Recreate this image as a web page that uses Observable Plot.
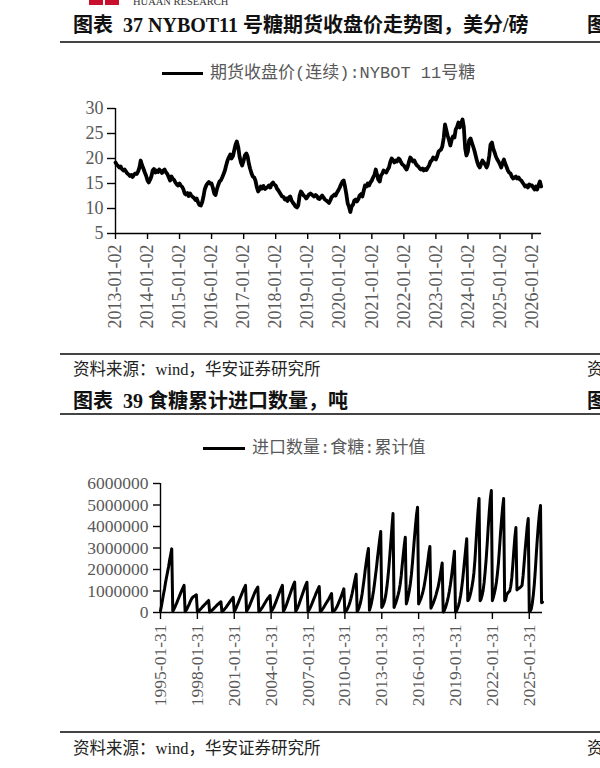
<!DOCTYPE html>
<html>
<head>
<meta charset="utf-8">
<script src="https://cdn.jsdelivr.net/npm/d3@7"></script>
<script src="https://cdn.jsdelivr.net/npm/@observablehq/plot@0.6"></script>
<style>
  html, body { margin: 0; padding: 0; background: #fff; }
  #page { position: relative; width: 600px; height: 768px; overflow: hidden; background: #fff; }
  .abs { position: absolute; white-space: nowrap; line-height: 1; }
  .title { font-family: "Liberation Serif", "Noto Sans CJK SC", serif; font-weight: bold; font-size: 20px; color: #111; }
  .src { font-family: "Liberation Serif", "Noto Sans CJK SC", serif; font-size: 16.5px; color: #222; }
  .rule { position: absolute; left: 60px; width: 540px; height: 1.5px; background: #444; }
  .legline { position: absolute; height: 3px; background: #000; }
  .legtext { font-family: "Liberation Mono", "Noto Sans CJK SC", monospace; font-size: 17px; color: #595959; }
  .chart { position: absolute; left: 0; }
</style>
</head>
<body>
<div id="page">
  <div class="abs" style="left:89px;top:0;width:14px;height:5px;background:#c8102e"></div>
  <div class="abs" style="left:105px;top:0;width:14px;height:5px;background:#c8102e"></div>
  <div class="abs" style="left:133px;top:-3px;font-family:'Liberation Serif',serif;font-size:10.5px;color:#333">HUAAN RESEARCH</div>

  <div class="abs title" style="left:73px;top:15px">图表&nbsp;&nbsp;37 NYBOT11 号糖期货收盘价走势图，美分/磅</div>
  <div class="abs title" style="left:587px;top:15px">图</div>
  <div class="rule" style="top:41px"></div>

  <div class="legline" style="left:162px;top:72px;width:41px"></div>
  <div class="abs legtext" style="left:210px;top:65px">期货收盘价(连续):NYBOT 11号糖</div>
  <div id="chart1" class="chart" style="top:90px"></div>

  <div class="rule" style="top:353px"></div>
  <div class="abs src" style="left:73px;top:362px">资料来源：wind，华安证券研究所</div>
  <div class="abs src" style="left:587px;top:362px">资</div>
  <div class="abs title" style="left:73px;top:391px">图表&nbsp;&nbsp;39 食糖累计进口数量，吨</div>
  <div class="abs title" style="left:587px;top:391px">图</div>
  <div class="rule" style="top:413px"></div>

  <div class="legline" style="left:203px;top:447px;width:42px"></div>
  <div class="abs legtext" style="left:252px;top:440px">进口数量:食糖:累计值</div>
  <div id="chart2" class="chart" style="top:465px"></div>

  <div class="rule" style="top:731px"></div>
  <div class="abs src" style="left:73px;top:741px">资料来源：wind，华安证券研究所</div>
  <div class="abs src" style="left:587px;top:741px">资</div>
</div>
<script>
// ---------- Chart 37: NYBOT 11 sugar futures close (US cents/lb), half-monthly readings ----------
const price2013 = [19.2, 18.8, 18.5, 18.2, 18.4, 17.9, 17.6, 17.8, 17.4, 17.0, 16.8, 16.5, 16.7, 16.3, 16.8, 17.0, 16.9, 17.4, 18.2, 19.6, 18.6, 18.0, 17.2, 16.6];
const price2014 = [15.6, 15.2, 15.8, 16.5, 17.6, 17.9, 17.2, 17.6, 17.3, 17.8, 17.5, 17.1, 17.6, 17.8, 17.2, 16.9, 16.2, 15.6, 16.4, 16.0, 15.7, 15.2, 14.8, 14.6];
const price2015 = [15.0, 14.6, 14.3, 13.8, 13.0, 12.8, 13.1, 12.5, 13.0, 12.6, 12.3, 12.1, 11.7, 12.0, 11.2, 10.7, 10.6, 11.2, 12.4, 13.8, 14.6, 15.0, 15.3, 15.0];
const price2016 = [15.0, 14.2, 13.0, 12.7, 13.8, 14.6, 15.4, 15.6, 16.2, 16.8, 17.6, 18.6, 19.6, 20.2, 20.8, 20.0, 20.5, 21.6, 22.8, 23.4, 22.2, 20.4, 19.2, 18.6];
const price2017 = [19.6, 20.6, 21.0, 20.4, 19.0, 18.0, 17.0, 16.4, 16.2, 15.6, 14.2, 13.4, 13.8, 14.4, 14.0, 14.5, 13.9, 14.1, 14.3, 14.6, 14.2, 14.9, 15.2, 14.8];
const price2018 = [14.6, 14.0, 13.6, 13.2, 12.8, 12.4, 12.3, 11.8, 12.0, 11.5, 12.2, 12.4, 11.6, 11.2, 10.8, 10.4, 10.2, 10.6, 12.6, 13.4, 13.0, 12.6, 12.4, 12.0];
const price2019 = [12.4, 12.8, 13.0, 12.8, 12.6, 12.4, 12.7, 12.5, 12.0, 11.9, 12.3, 12.6, 12.2, 11.8, 11.6, 11.4, 11.1, 11.6, 12.3, 12.5, 12.8, 12.6, 13.2, 13.6];
const price2020 = [14.2, 14.8, 15.4, 15.6, 14.4, 13.0, 11.0, 10.4, 9.3, 10.4, 10.8, 11.6, 11.8, 11.4, 11.9, 12.6, 12.9, 12.4, 13.6, 14.6, 14.4, 15.0, 14.6, 15.2];
const price2021 = [15.6, 16.2, 16.8, 17.8, 16.8, 15.8, 15.4, 16.6, 17.0, 17.6, 17.4, 17.2, 17.8, 18.2, 19.4, 20.0, 19.6, 19.2, 19.6, 19.4, 20.0, 19.8, 19.2, 18.8];
const price2022 = [18.6, 18.2, 17.8, 18.4, 19.4, 20.2, 19.8, 19.4, 19.6, 19.0, 18.6, 18.4, 18.0, 17.8, 18.0, 17.6, 17.9, 17.7, 18.2, 18.6, 19.4, 19.6, 20.2, 20.0];
const price2023 = [19.8, 20.4, 21.4, 21.6, 21.8, 22.4, 24.2, 26.8, 25.6, 24.6, 23.6, 22.6, 23.8, 24.4, 24.2, 25.8, 26.4, 27.2, 26.2, 27.0, 27.8, 26.4, 22.0, 20.6];
const price2024 = [21.4, 23.6, 24.0, 23.2, 22.4, 21.6, 20.4, 19.4, 18.6, 18.2, 19.0, 19.6, 19.2, 18.8, 18.2, 18.8, 20.6, 22.8, 23.2, 22.0, 21.2, 20.4, 19.8, 19.4];
const price2025 = [18.8, 18.2, 19.2, 19.8, 19.0, 18.4, 17.6, 17.2, 17.0, 16.4, 16.0, 16.2, 16.4, 16.0, 16.2, 15.8, 15.6, 15.2, 14.8, 14.4, 14.6, 14.2, 14.8, 14.6];
const price2026 = [14.6, 14.2, 13.8, 14.4, 13.8, 14.6, 15.4, 14.4];
const priceYTicks = [5, 10, 15, 20, 25, 30];
const priceXTicks = ["2013-01-02","2014-01-02","2015-01-02","2016-01-02","2017-01-02","2018-01-02","2019-01-02",
                     "2020-01-02","2021-01-02","2022-01-02","2023-01-02","2024-01-02","2025-01-02","2026-01-02"];
const priceDomain = ["2013-01-02", "2026-04-20"];

// ---------- Chart 39: China sugar imports, cumulative YTD (万吨 = 10,000 t), monthly ----------
const imp1995 = [8, 30, 58, 85, 110, 140, 165, 190, 215, 245, 270, 296];
const imp1996 = [6, 14, 24, 35, 46, 58, 70, 82, 94, 105, 116, 126];
const imp1997 = [4, 10, 18, 28, 38, 50, 60, 68, 73, 76, 79, 82];
const imp1998 = [3, 6, 10, 15, 20, 26, 31, 36, 41, 46, 51, 56];
const imp1999 = [2, 5, 9, 13, 18, 23, 28, 33, 38, 42, 46, 50];
const imp2000 = [3, 7, 12, 18, 24, 31, 38, 45, 52, 58, 64, 70];
const imp2001 = [5, 12, 22, 34, 46, 58, 70, 82, 94, 106, 116, 126];
const imp2002 = [6, 13, 22, 32, 44, 56, 68, 80, 92, 102, 110, 118];
const imp2003 = [4, 8, 14, 20, 28, 36, 44, 52, 60, 67, 73, 79];
const imp2004 = [5, 11, 19, 29, 41, 53, 66, 79, 92, 104, 115, 126];
const imp2005 = [6, 14, 24, 36, 50, 64, 78, 92, 106, 119, 131, 141];
const imp2006 = [6, 13, 23, 35, 49, 63, 77, 91, 105, 118, 130, 141];
const imp2007 = [5, 11, 20, 30, 42, 54, 66, 78, 90, 101, 111, 121];
const imp2008 = [4, 8, 14, 21, 29, 37, 45, 53, 61, 70, 79, 88];
const imp2009 = [3, 6, 10, 16, 24, 34, 46, 58, 70, 83, 96, 110];
const imp2010 = [2, 6, 12, 22, 34, 48, 66, 86, 108, 132, 156, 178];
const imp2011 = [5, 12, 24, 40, 62, 90, 125, 162, 202, 238, 270, 298];
const imp2012 = [10, 25, 45, 70, 100, 135, 175, 215, 260, 300, 340, 377];
const imp2013 = [23, 30, 42, 58, 82, 116, 160, 212, 272, 334, 398, 460];
const imp2014 = [23, 35, 48, 64, 82, 102, 130, 170, 220, 268, 312, 350];
const imp2015 = [40, 55, 78, 102, 135, 176, 230, 290, 350, 405, 455, 490];
const imp2016 = [40, 50, 62, 76, 92, 112, 140, 170, 202, 240, 278, 307];
const imp2017 = [20, 30, 40, 52, 66, 82, 100, 118, 142, 170, 200, 230];
const imp2018 = [2, 8, 20, 35, 52, 72, 98, 128, 162, 202, 242, 285];
const imp2019 = [2, 8, 18, 32, 52, 78, 112, 152, 198, 248, 296, 343];
const imp2020 = [55, 60, 75, 95, 118, 145, 185, 245, 322, 402, 472, 530];
const imp2021 = [55, 62, 80, 102, 140, 190, 250, 322, 400, 470, 528, 567];
const imp2022 = [55, 70, 90, 112, 142, 182, 232, 300, 370, 432, 486, 530];
const imp2023 = [55, 58, 82, 90, 95, 100, 122, 162, 222, 290, 350, 395];
const imp2024 = [105, 110, 112, 116, 120, 126, 170, 230, 290, 345, 398, 437];
const imp2025 = [3, 7, 16, 42, 82, 132, 200, 280, 350, 412, 462, 498];
const imp2026 = [45, 48];
const impYTicks = [0, 1000000, 2000000, 3000000, 4000000, 5000000, 6000000];
const impXTicks = ["1995-01-31","1998-01-31","2001-01-31","2004-01-31","2007-01-31","2010-01-31",
                   "2013-01-31","2016-01-31","2019-01-31","2022-01-31","2025-01-31"];
const impDomain = ["1995-01-31", "2026-02-28"];

// ---------- build tables ----------
const priceSeries = [price2013, price2014, price2015, price2016, price2017, price2018, price2019,
                     price2020, price2021, price2022, price2023, price2024, price2025, price2026];
const priceRows = [];
priceSeries.forEach((arr, k) => {
  const year = 2013 + k;
  arr.forEach((v, i) => {
    priceRows.push({date: new Date(Date.UTC(year, Math.floor(i / 2), i % 2 ? 16 : 2)), price: v});
  });
});

const impSeries = [imp1995, imp1996, imp1997, imp1998, imp1999, imp2000, imp2001, imp2002, imp2003, imp2004,
                   imp2005, imp2006, imp2007, imp2008, imp2009, imp2010, imp2011, imp2012, imp2013, imp2014,
                   imp2015, imp2016, imp2017, imp2018, imp2019, imp2020, imp2021, imp2022, imp2023, imp2024,
                   imp2025, imp2026];
const impRows = [];
impSeries.forEach((arr, k) => {
  const year = 1995 + k;
  arr.forEach((v, m) => {
    impRows.push({date: new Date(Date.UTC(year, m + 1, 0)), tons: v * 10000});
  });
});

const fmtDate = d3.utcFormat("%Y-%m-%d");
const axisText = "#595959";

const chart1 = Plot.plot({
  width: 600, height: 250,
  marginLeft: 115, marginRight: 59, marginTop: 18, marginBottom: 107,
  style: {fontFamily: "'Liberation Serif', 'Times New Roman', serif", fontSize: "18px", background: "transparent", overflow: "visible"},
  x: {type: "utc", domain: priceDomain.map(d => new Date(d))},
  y: {domain: [5, 30]},
  marks: [
    Plot.line(priceRows, {x: "date", y: "price", stroke: "#000", strokeWidth: 3.8, strokeLinejoin: "round", strokeLinecap: "round"}),
    Plot.ruleX([new Date(priceDomain[0])], {stroke: "#000", strokeWidth: 1.4}),
    Plot.ruleY([5], {stroke: "#000", strokeWidth: 1.4}),
    Plot.axisY({ticks: priceYTicks, tickSize: 8, tickPadding: 4, fill: axisText, stroke: "#000", strokeWidth: 1.4, label: null, fontSize: 18}),
    Plot.axisX({ticks: priceXTicks.map(d => new Date(d)), tickFormat: fmtDate, tickRotate: -90, tickSize: 6, tickPadding: 5,
                fill: axisText, stroke: "#000", strokeWidth: 1.4, label: null, fontSize: 18})
  ]
});
document.getElementById("chart1").appendChild(chart1);

const chart2 = Plot.plot({
  width: 600, height: 260,
  marginLeft: 160, marginRight: 58, marginTop: 18, marginBottom: 113,
  style: {fontFamily: "'Liberation Serif', 'Times New Roman', serif", fontSize: "17.5px", background: "transparent", overflow: "visible"},
  x: {type: "utc", domain: impDomain.map(d => new Date(d))},
  y: {domain: [0, 6000000]},
  marks: [
    Plot.line(impRows, {x: "date", y: "tons", stroke: "#000", strokeWidth: 3, strokeLinejoin: "round", strokeLinecap: "round"}),
    Plot.ruleX([new Date(impDomain[0])], {stroke: "#000", strokeWidth: 1.4}),
    Plot.ruleY([0], {stroke: "#000", strokeWidth: 1.4}),
    Plot.axisY({ticks: impYTicks, tickFormat: d3.format("d"), tickSize: 7, tickPadding: 5, fill: axisText, stroke: "#000", strokeWidth: 1.4, label: null, fontSize: 17.5}),
    Plot.axisX({ticks: impXTicks.map(d => new Date(d)), tickFormat: fmtDate, tickRotate: -90, tickSize: 7, tickPadding: 5,
                fill: axisText, stroke: "#000", strokeWidth: 1.4, label: null, fontSize: 17.5})
  ]
});
document.getElementById("chart2").appendChild(chart2);
</script>
</body>
</html>
